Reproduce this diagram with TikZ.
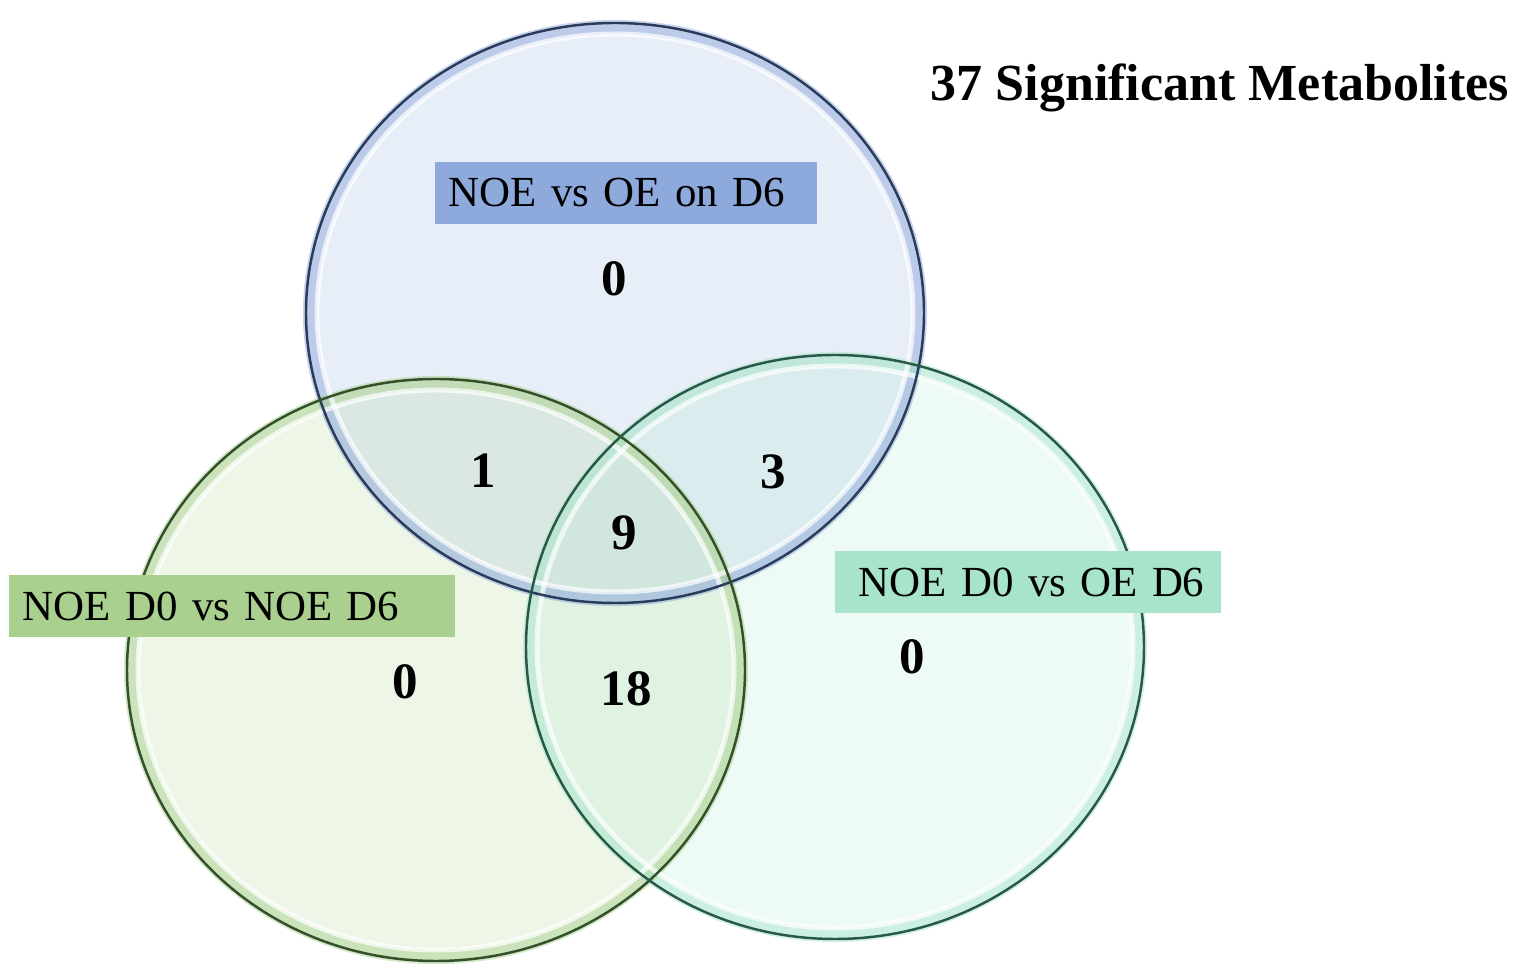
\documentclass[tikz,border=0pt]{standalone}
\usepackage{fontspec}
\setmainfont{Liberation Serif}
\usepackage{xcolor}

\definecolor{noeblue}{HTML}{8EA9DB}
\definecolor{noegreen}{HTML}{A9D08E}
\definecolor{noeteal}{HTML}{A8E4CB}
\definecolor{rimblue}{HTML}{2B3C5A}
\definecolor{rimgreen}{HTML}{33502A}
\definecolor{rimteal}{HTML}{285846}

\begin{document}
\begin{tikzpicture}[x=0.01cm, y=-0.01cm,
    setfill/.style={fill=#1, fill opacity=0.2},
    setglow/.style={draw=#1, line width=4pt, draw opacity=0.5},
    setshine/.style={draw=white, line width=1.4pt, draw opacity=0.7},
    setrim/.style={draw=#1, line width=0.7pt},
    tag/.style={fill=#1, inner xsep=0.14cm, inner ysep=0pt, minimum height=0.62cm,
        align=left, font=\fontsize{12.2}{14}\selectfont},
    num/.style={font=\fontsize{14.5}{16}\selectfont\bfseries}]
    \useasboundingbox (0,0) rectangle (1517,964);

    % Set centres
    \coordinate (blueset) at (615,313);
    \coordinate (greenset) at (436,670);
    \coordinate (tealset) at (835,647);

    % Set fills
    \fill[setfill=noeblue] (blueset) ellipse [x radius=309, y radius=290];
    \fill[setfill=noegreen] (greenset) ellipse [x radius=309, y radius=291];
    \fill[setfill=noeteal] (tealset) ellipse [x radius=309, y radius=292];

    % Glassy rims
    \draw[setglow=noeblue] (blueset) ellipse [x radius=305, y radius=286];
    \draw[setglow=noegreen] (greenset) ellipse [x radius=305, y radius=287];
    \draw[setglow=noeteal] (tealset) ellipse [x radius=305, y radius=288];
    \draw[setshine] (blueset) ellipse [x radius=298, y radius=279];
    \draw[setshine] (greenset) ellipse [x radius=298, y radius=280];
    \draw[setshine] (tealset) ellipse [x radius=298, y radius=281];

    % Outlines
    \draw[setrim=rimblue] (blueset) ellipse [x radius=309, y radius=290];
    \draw[setrim=rimgreen] (greenset) ellipse [x radius=309, y radius=291];
    \draw[setrim=rimteal] (tealset) ellipse [x radius=309, y radius=292];

    % Set labels
    \node[tag=noeblue, text width=3.54cm] (bluetag) at (626,193) {NOE vs OE on D6};
    \node[tag=noegreen, text width=4.18cm] (greentag) at (232,606) {NOE D0 vs NOE D6};
    \node[tag=noeteal, text width=3.58cm] (tealtag) at (1028,582) {\hspace{0.1cm}NOE D0 vs OE D6};

    % Counts
    \node[num] (onlyblue) at (614,279) {0};
    \node[num] (bluegreen) at (483,471) {1};
    \node[num] (blueteal) at (773,472) {3};
    \node[num] (allthree) at (624,533) {9};
    \node[num] (onlygreen) at (405,682) {0};
    \node[num] (greenteal) at (626,689) {18};
    \node[num] (onlyteal) at (912,657) {0};

    % Title
    \node[anchor=west, inner sep=0pt, font=\fontsize{14.8}{17}\selectfont\bfseries] (title) at (930,88) {37 Significant Metabolites};
\end{tikzpicture}
\end{document}
